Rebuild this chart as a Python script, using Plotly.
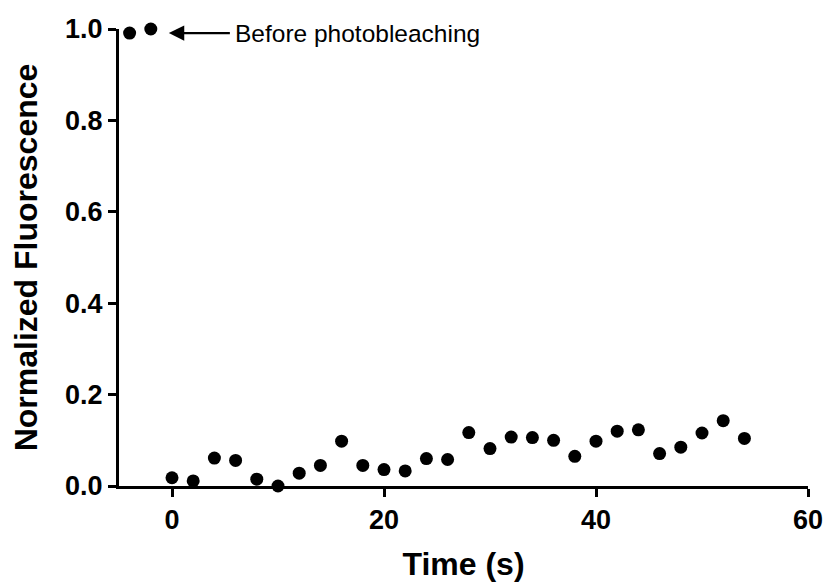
import plotly.graph_objects as go

time_s = [-4, -2, 0, 2, 4, 6, 8, 10, 12, 14, 16, 18, 20, 22, 24, 26, 28,
          30, 32, 34, 36, 38, 40, 42, 44, 46, 48, 50, 52, 54]
fluor = [0.991, 1.0, 0.018, 0.011, 0.061, 0.056, 0.015, 0.0, 0.028, 0.045,
         0.098, 0.045, 0.036, 0.033, 0.060, 0.058, 0.117, 0.082, 0.107,
         0.106, 0.100, 0.065, 0.098, 0.120, 0.123, 0.071, 0.085, 0.116,
         0.143, 0.104]
x_ticks = [0, 20, 40, 60]
y_ticks = [0.0, 0.2, 0.4, 0.6, 0.8, 1.0]
y_tick_labels = ["0.0", "0.2", "0.4", "0.6", "0.8", "1.0"]
note_text = "Before photobleaching"

FONT = "Liberation Sans, Arial, sans-serif"

fig = go.Figure()
fig.add_trace(go.Scatter(
    x=time_s, y=fluor, mode="markers",
    marker=dict(color="black", size=13),
    cliponaxis=False, showlegend=False,
))

fig.add_annotation(
    x=-0.3, y=0.991, ax=5.6, ay=0.991, xref="x", yref="y",
    axref="x", ayref="y", text="", showarrow=True,
    arrowhead=2, arrowsize=1.4, arrowwidth=2.2, arrowcolor="black",
)
fig.add_annotation(
    x=5.8, y=0.991, xref="x", yref="y", text=note_text, showarrow=False,
    xanchor="left", yanchor="middle",
    font=dict(family=FONT, size=24.5, color="black"),
)

fig.update_layout(
    width=828, height=588,
    margin=dict(l=119, r=20, t=29, b=102),
    paper_bgcolor="white", plot_bgcolor="white",
    font=dict(family=FONT, color="black"),
)
fig.update_xaxes(
    range=[-5, 60], tickvals=x_ticks, ticktext=[str(v) for v in x_ticks],
    showgrid=False, zeroline=False, showline=True, linecolor="black",
    linewidth=3, ticks="outside", ticklen=8, tickwidth=3, tickcolor="black",
    automargin=False,
    tickfont=dict(family=FONT, size=27, color="black", weight="bold"),
    title=dict(text="Time (s)", standoff=19,
               font=dict(family=FONT, size=32, color="black", weight="bold")),
)
fig.update_yaxes(
    range=[0, 1.0], tickvals=y_ticks, ticktext=y_tick_labels,
    showgrid=False, zeroline=False, showline=True, linecolor="black",
    linewidth=3, ticks="outside", ticklen=8, tickwidth=3, tickcolor="black",
    automargin=False,
    tickfont=dict(family=FONT, size=27, color="black", weight="bold"),
    title=dict(text="Normalized Fluorescence", standoff=18,
               font=dict(family=FONT, size=32, color="black", weight="bold")),
)

fig.write_html(
    "out.html",
    config={"displayModeBar": False},
    post_script="document.body.style.margin='0';"
                "document.body.style.overflow='hidden';",
)
